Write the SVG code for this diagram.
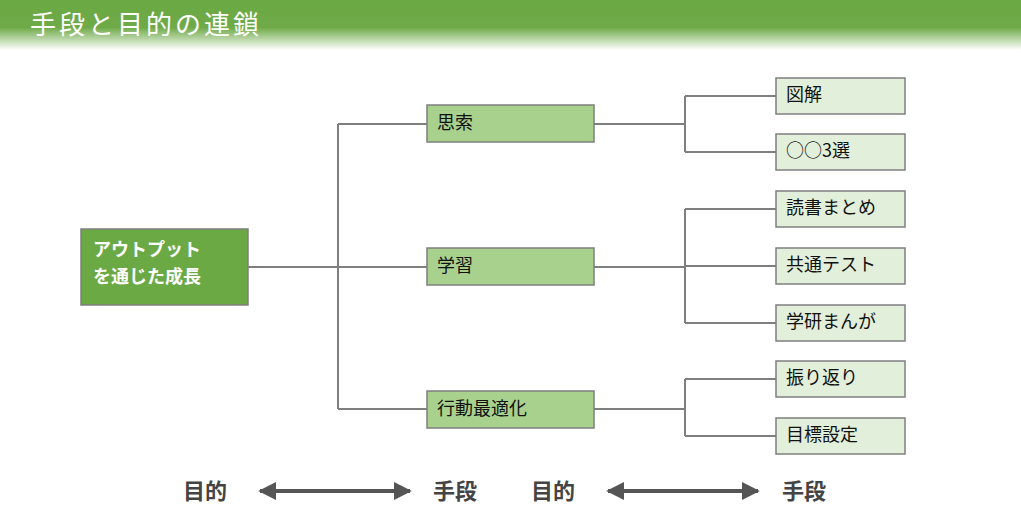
<svg xmlns="http://www.w3.org/2000/svg" width="1021" height="529" viewBox="0 0 1021 529">
<defs>
<linearGradient id="hg" x1="0" y1="0" x2="0" y2="1">
<stop offset="0" stop-color="#6aa944"/><stop offset="0.55" stop-color="#6faa48"/><stop offset="1" stop-color="#ffffff"/>
</linearGradient>
<marker id="ah" viewBox="0 0 10 10" refX="9" refY="5" markerWidth="4.5" markerHeight="4.5" orient="auto-start-reverse"><path d="M0,0 L10,5 L0,10 z" fill="#555"/></marker>
</defs>
<style>
text{font-family:"Noto Sans CJK JP","Noto Sans",sans-serif;}
.root{fill:#6aa944;stroke:#7f7f7f;stroke-width:1.5}
.mid{fill:#a9d18e;stroke:#7f7f7f;stroke-width:1.5}
.leaf{fill:#e2efda;stroke:#7f7f7f;stroke-width:1.5}
.t{font-size:18px;fill:#111}
.c{fill:none;stroke:#7f7f7f;stroke-width:2}
.b{font-size:22px;font-weight:bold;fill:#444}
</style>
<rect x="0" y="0" width="1021" height="50" fill="url(#hg)"/>
<text x="30" y="34" font-size="26" fill="#fff" letter-spacing="3">手段と目的の連鎖</text>
<g id="connectors">
<path class="c" d="M248,267 H338 M338,124 V409 M338,124 H427 M338,267 H427 M338,409 H427"/>
<path class="c" d="M594,124 H685 M685,96 V152 M685,96 H776 M685,152 H776"/>
<path class="c" d="M594,267 H685 M685,209 V323 M685,209 H776 M685,266 H776 M685,323 H776"/>
<path class="c" d="M594,409 H685 M685,379 V436 M685,379 H776 M685,436 H776"/>
</g>
<g id="root"><rect class="root" x="81" y="229" width="167" height="76"/><text x="93" y="256" font-size="18" font-weight="bold" fill="#fff">アウトプット</text><text x="93" y="283" font-size="18" font-weight="bold" fill="#fff">を通じた成長</text></g>
<g id="m1"><rect class="mid" x="427" y="105" width="167" height="37"/><text class="t" x="437" y="129">思索</text></g>
<g id="m2"><rect class="mid" x="427" y="248" width="167" height="37"/><text class="t" x="437" y="272">学習</text></g>
<g id="m3"><rect class="mid" x="427" y="391" width="167" height="37"/><text class="t" x="437" y="415">行動最適化</text></g>
<g id="l1"><rect class="leaf" x="776" y="78" width="129" height="36"/><text class="t" x="786" y="101">図解</text></g>
<g id="l2"><rect class="leaf" x="776" y="134" width="129" height="36"/><text class="t" x="786" y="157">○○3選</text></g>
<g id="l3"><rect class="leaf" x="776" y="191" width="129" height="36"/><text class="t" x="786" y="214">読書まとめ</text></g>
<g id="l4"><rect class="leaf" x="776" y="248" width="129" height="36"/><text class="t" x="786" y="271">共通テスト</text></g>
<g id="l5"><rect class="leaf" x="776" y="305" width="129" height="36"/><text class="t" x="786" y="328">学研まんが</text></g>
<g id="l6"><rect class="leaf" x="776" y="361" width="129" height="36"/><text class="t" x="786" y="384">振り返り</text></g>
<g id="l7"><rect class="leaf" x="776" y="418" width="129" height="36"/><text class="t" x="786" y="441">目標設定</text></g>
<g id="legend">
<text class="b" x="183" y="499">目的</text>
<line x1="260" y1="491" x2="410" y2="491" stroke="#555" stroke-width="4" marker-start="url(#ah)" marker-end="url(#ah)"/>
<text class="b" x="433" y="499">手段</text>
<text class="b" x="531" y="499">目的</text>
<line x1="608" y1="491" x2="758" y2="491" stroke="#555" stroke-width="4" marker-start="url(#ah)" marker-end="url(#ah)"/>
<text class="b" x="782" y="499">手段</text>
</g>
</svg>
